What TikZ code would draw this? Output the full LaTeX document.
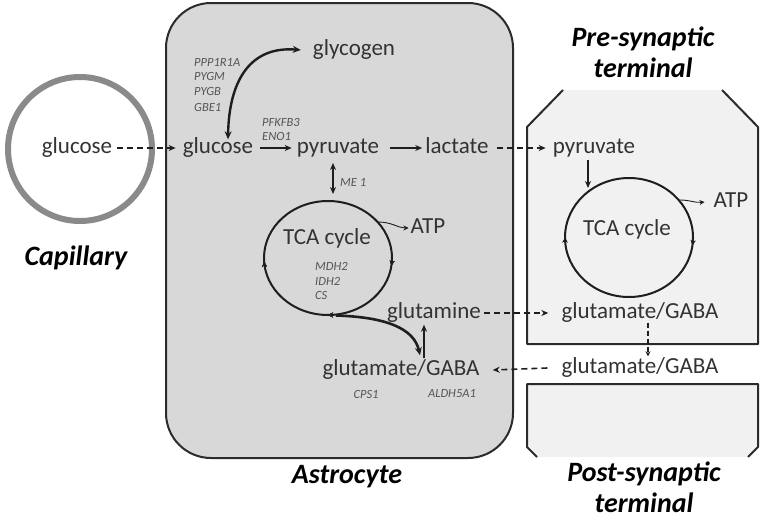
\documentclass[tikz,border=0pt]{standalone}
\usepackage{fontspec}
\setmainfont{Carlito}
\usetikzlibrary{arrows.meta,decorations.markings}
\definecolor{txt}{HTML}{333333}
\definecolor{gene}{HTML}{555555}
\definecolor{ln}{HTML}{1E1E1E}
\definecolor{astrofill}{HTML}{D8D8D8}
\definecolor{neurofill}{HTML}{F1F1F1}
\definecolor{capgray}{HTML}{8A8A8A}
\definecolor{edge}{HTML}{2B2B2B}
\begin{document}
\begin{tikzpicture}[x=1pt,y=-1pt,
  lbl/.style={font=\fontsize{23}{26}\selectfont, text=txt, inner sep=1pt, text height=16pt, text depth=5pt},
  gene/.style={font=\fontsize{12.5}{14}\selectfont\itshape, text=gene, inner sep=0pt},
  title/.style={font=\fontsize{28}{31}\selectfont\bfseries\itshape, text=black, align=center, inner sep=0pt},
  arr/.style={-{Stealth[length=7pt,width=6pt]}, line width=1.6pt, draw=ln},
  darr/.style={arr, dash pattern=on 6pt off 4pt},
  thinarr/.style={-{Stealth[length=5pt,width=5pt]}, line width=0.9pt, draw=ln},
  curvarr/.style={{Stealth[length=8pt,width=7pt]}-{Stealth[length=8pt,width=7pt]}, line width=2.4pt, draw=ln},
  cyc/.style={line width=2pt, draw=ln},
  mk/.style={decoration={markings, mark=at position #1 with {\arrow{Stealth[length=5pt,width=5pt]}}}, postaction={decorate}},
  cellline/.style={line width=2pt, draw=edge}
]
\useasboundingbox (0,0) rectangle (762,522);

% cell shapes
\draw[cellline, fill=astrofill, rounded corners=45pt] (166,3) rectangle (513,458);
\fill[neurofill] (563,90) -- (722,90) -- (758,127) -- (758,344) -- (527,344) -- (527,127) -- cycle;
\draw[cellline, line join=round] (563,90) -- (527,127) -- (527,344) -- (758,344) -- (758,127) -- (722,90);
\fill[neurofill] (527,384) -- (758,384) -- (758,447) -- (748,457) -- (537,457) -- (527,447) -- cycle;
\draw[cellline, line join=round] (537,457) -- (527,447) -- (527,384) -- (758,384) -- (758,447) -- (748,457);
\draw[line width=6pt, draw=capgray] (80,149) circle [radius=72];

% TCA cycles
\coordinate (c1) at (328,258);
\coordinate (c2) at (629,237.5);
\draw[cyc, mk=0.02, mk=0.25, mk=0.49] (c1) ellipse [x radius=64, y radius=57];
\draw[cyc, mk=0.02, mk=0.5] (c2) ellipse [x radius=64, y radius=59.5];

% titles
\node[title] (tcap) at (76,258) {Capillary};
\node[title] (tast) at (347,477) {Astrocyte};
\node[title] (tpre) at (643,52) {Pre-synaptic\\terminal};
\node[title] (tpost) at (644,487) {Post-synaptic\\terminal};

% metabolites
\node[lbl] (cg) at (77,148) {glucose};
\node[lbl] (ag) at (218,148) {glucose};
\node[lbl] (apy) at (338,148) {pyruvate};
\node[lbl] (lac) at (457,148) {lactate};
\node[lbl] (ppy) at (594,148) {pyruvate};
\node[lbl] (gly) at (354,50) {glycogen};
\node[lbl] (tca1) at (327,239) {TCA cycle};
\node[lbl] (tca2) at (627,230) {TCA cycle};
\node[lbl] (atp1) at (428,228) {ATP};
\node[lbl] (atp2) at (731,202) {ATP};
\node[lbl] (gln) at (434,313) {glutamine};
\node[lbl] (aglu) at (401,370) {glutamate/GABA};
\node[lbl] (pglu) at (640,313) {glutamate/GABA};
\node[lbl] (cglu) at (640,368) {glutamate/GABA};

% genes
\node[gene, anchor=west] (g1) at (194,62) {PPP1R1A};
\node[gene, anchor=west] (g2) at (194,76.5) {PYGM};
\node[gene, anchor=west] (g3) at (194,91) {PYGB};
\node[gene, anchor=west] (g4) at (194,107) {GBE1};
\node[gene, anchor=west] (g5) at (262,122.5) {PFKFB3};
\node[gene, anchor=west] (g6) at (262,136) {ENO1};
\node[gene, anchor=west] (g7) at (340,182) {ME 1};
\node[gene, anchor=west] (g8) at (315,266) {MDH2};
\node[gene, anchor=west] (g9) at (315,281) {IDH2};
\node[gene, anchor=west] (g10) at (315,295) {CS};
\node[gene] (g11) at (366,394) {CPS1};
\node[gene] (g12) at (452,394) {ALDH5A1};

% free-end coordinates
\coordinate (me1a) at (333,163);
\coordinate (me1b) at (333,194);
\coordinate (c1bot) at (336,315.5);
\coordinate (c1atp) at (378,222);
\coordinate (c2atp) at (680,200);
\coordinate (c2top) at (588,188);

% connectors
\draw[darr] ([xshift=4pt]cg.east) -- ([xshift=-6pt]ag.west);
\draw[arr] ([xshift=6pt]ag.east) -- ([xshift=-4pt]apy.west);
\draw[arr] ([xshift=10pt]apy.east) -- ([xshift=-2pt]lac.west);
\draw[darr] ([xshift=7pt]lac.east) -- ([xshift=-6pt]ppy.west);
\draw[curvarr] ([xshift=10pt,yshift=-3pt]ag.north) .. controls (229,78) and (252,46) .. ([xshift=-11pt]gly.west);
\draw[arr, {Stealth[length=7pt,width=6pt]}-{Stealth[length=7pt,width=6pt]}] (me1a) -- (me1b);
\draw[thinarr] (c1atp) .. controls (392,222) and (398,228) .. ([xshift=-1pt]atp1.west);
\draw[thinarr] (c2atp) .. controls (690,200) and (695,203) .. ([xshift=-8pt]atp2.west);
\draw[arr] ([xshift=-6pt]ppy.south) -- (c2top);
\draw[line width=2.6pt, draw=ln, -{Stealth[length=8pt,width=7pt]}] (c1bot) .. controls (385,317) and (414,328) .. ([xshift=19pt,yshift=3pt]aglu.north);
\draw[arr] ([xshift=23pt]aglu.north) -- ([xshift=-10pt]gln.south);
\draw[darr] ([xshift=2pt]gln.east) -- ([xshift=-12pt]pglu.west);
\draw[darr] ([xshift=-13pt]cglu.west) -- ([xshift=12pt]aglu.east);
\draw[thinarr, line width=1.6pt, dash pattern=on 5pt off 3pt] ([xshift=8pt,yshift=2pt]pglu.south) -- ([xshift=8pt]cglu.north);
\end{tikzpicture}
\end{document}
